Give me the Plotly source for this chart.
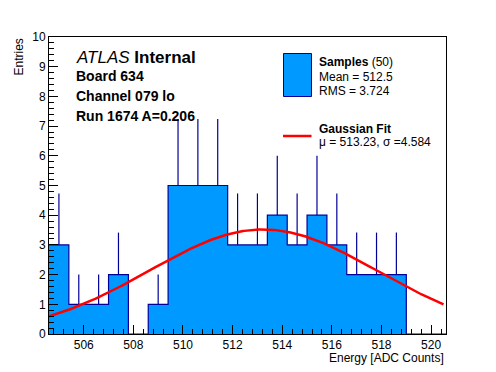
import numpy as np
import plotly.graph_objects as go

# ---- data ----
bin_edges = [504.6 + 0.8 * k for k in range(21)]
counts = [3, 1, 1, 2, 0, 1, 5, 5, 5, 3, 3, 4, 3, 4, 3, 2, 2, 2, 0, 0]
fit_mu = 513.23
fit_sigma = 4.584
fit_amp = 3.52
x_ticks = [506, 508, 510, 512, 514, 516, 518, 520]
y_ticks = list(range(0, 11))

FONT = "Liberation Sans, Arial, Helvetica, sans-serif"
NAVY = "#000099"
FILL = "#0099ff"

# page body has an 8px margin; size figure so window coords match reference
OFF = 8
W, H = 496 - OFF, 372 - OFF
L, R, T, B = 49, 446, 37, 334   # plot frame in window pixels


def px(x):
    return (x - L) / (R - L)


def py(y):
    return (B - y) / (B - T)


centers = [(bin_edges[i] + bin_edges[i + 1]) / 2 for i in range(len(counts))]

fig = go.Figure()

# filled histogram with step outline
fig.add_trace(go.Scatter(
    x=bin_edges, y=counts + [counts[-1]],
    mode="lines", line=dict(shape="hv", color=NAVY, width=1.2),
    fill="tozeroy", fillcolor=FILL, showlegend=False, hoverinfo="skip",
))

# error bars (upward part visible)
ex = [c for c, n in zip(centers, counts) if n > 0]
ey = [n for n in counts if n > 0]
ee = [np.sqrt(n) for n in counts if n > 0]
fig.add_trace(go.Scatter(
    x=ex, y=ey, mode="markers",
    marker=dict(size=1, color="rgba(0,0,0,0)"),
    error_y=dict(type="data", symmetric=False, array=ee, arrayminus=[0] * len(ee),
                 width=0, color=NAVY, thickness=1.2),
    showlegend=False, hoverinfo="skip",
))

# gaussian fit
gx = np.linspace(504.6, 520.5, 300)
gy = fit_amp * np.exp(-0.5 * ((gx - fit_mu) / fit_sigma) ** 2)
fig.add_trace(go.Scatter(x=gx, y=gy, mode="lines",
                         line=dict(color="#ff0000", width=2.5),
                         showlegend=False, hoverinfo="skip"))

fig.update_xaxes(
    range=[504.6, 520.6], tickmode="array", tickvals=x_ticks,
    ticks="inside", ticklen=9, tickcolor="black", tickwidth=1,
    minor=dict(ticks="inside", ticklen=5, tick0=506, dtick=0.4, tickcolor="black"),
    showline=True, linecolor="black", linewidth=1, mirror=True,
    showgrid=False, zeroline=False, automargin=False,
    tickfont=dict(family=FONT, size=12, color="black"),
)
fig.update_yaxes(
    range=[0, 10], tickmode="array", tickvals=y_ticks,
    ticks="inside", ticklen=9, tickcolor="black", tickwidth=1,
    minor=dict(ticks="inside", ticklen=5, tick0=0, dtick=0.2, tickcolor="black"),
    showline=True, linecolor="black", linewidth=1, mirror=True,
    showgrid=False, zeroline=False, automargin=False,
    tickfont=dict(family=FONT, size=12, color="black"),
)

ann = []


def text(x, y, s, size=12, xanchor="left", yanchor="middle", angle=0):
    ann.append(dict(x=px(x), y=py(y), xref="paper", yref="paper", text=s,
                    showarrow=False, xanchor=xanchor, yanchor=yanchor,
                    textangle=angle,
                    font=dict(family=FONT, size=size, color="black")))


text(74, 57, "<i>ATLAS</i> <b>Internal</b>", size=17)
text(74, 76, "<b>Board 634</b>", size=14)
text(74, 96, "<b>Channel 079 lo</b>", size=14)
text(74, 116, "<b>Run 1674 A=0.206</b>", size=14)

text(317, 62, "<b>Samples</b> (50)", size=12)
text(317, 77, "Mean = 512.5", size=12)
text(317, 91, "RMS = 3.724", size=12)
text(317, 129, "<b>Gaussian Fit</b>", size=12)
text(317, 142, "μ = 513.23, σ =4.584", size=12)

text(446, 358, "Energy [ADC Counts]", size=12, xanchor="right")
text(18, 37, "Entries", size=12, xanchor="center", yanchor="top", angle=-90)

shapes = [
    dict(type="rect", xref="paper", yref="paper", x0=px(283.5), x1=px(311.5),
         y0=py(53.5), y1=py(96.5), fillcolor=FILL, line=dict(color=NAVY, width=1)),
    dict(type="line", xref="paper", yref="paper", x0=px(283), x1=px(311.5),
         y0=py(136), y1=py(136), line=dict(color="#ff0000", width=2.5)),
]

fig.update_layout(
    width=W, height=H,
    margin=dict(l=L - OFF, r=(W + OFF) - R, t=T - OFF, b=(H + OFF) - B),
    paper_bgcolor="white", plot_bgcolor="white",
    annotations=ann, shapes=shapes, showlegend=False,
)

fig.write_html("out.html")
